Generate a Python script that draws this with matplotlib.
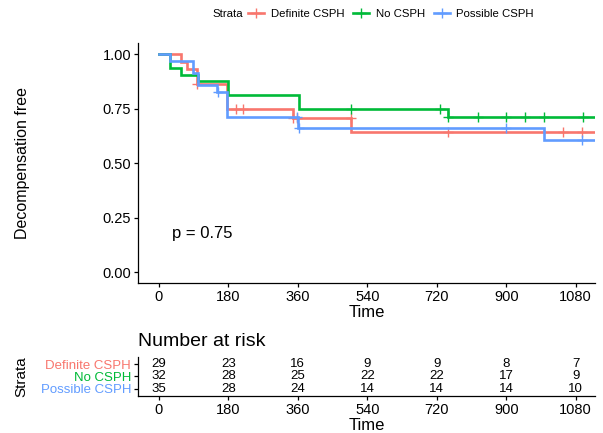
"""Kaplan-Meier style chart with a number-at-risk table underneath."""

import matplotlib

matplotlib.use("Agg")
import matplotlib.pyplot as plt
from matplotlib.lines import Line2D
import numpy as np

plt.rcParams["font.family"] = ["Liberation Sans", "DejaVu Sans"]

# Group names and colours (ggplot default hues).
strata = ["Definite CSPH", "No CSPH", "Possible CSPH"]
colors = ["#F8766D", "#00BA38", "#619CFF"]

# Step curves: times where the survival changes and the level after it.
definite_times = [0, 57, 73, 98, 177, 348, 498, 1130]
definite_surv = [1.0, 0.966, 0.931, 0.862, 0.750, 0.707, 0.643, 0.643]
definite_cens = [98, 199, 219, 348, 357, 497, 748, 1046, 1097]

no_times = [0, 28, 57, 100, 180, 364, 748, 1130]
no_surv = [1.0, 0.9375, 0.906, 0.875, 0.8125, 0.750, 0.712, 0.712]
no_cens = [498, 728, 748, 828, 899, 949, 998, 1098]

possible_times = [0, 28, 89, 100, 150, 177, 361, 997, 1130]
possible_surv = [1.0, 0.971, 0.914, 0.857, 0.829, 0.710, 0.664, 0.608, 0.608]
possible_cens = [152, 358, 363, 899, 1097]

# Number-at-risk table.
risk_times = [0, 180, 360, 540, 720, 900, 1080]
risk_definite = [29, 23, 16, 9, 9, 8, 7]
risk_no = [32, 28, 25, 22, 22, 17, 9]
risk_possible = [35, 28, 24, 14, 14, 14, 10]

p_label = "p = 0.75"

curves = [
    (definite_times, definite_surv, definite_cens),
    (no_times, no_surv, no_cens),
    (possible_times, possible_surv, possible_cens),
]
risk_rows = [risk_definite, risk_no, risk_possible]

W, H = 603, 433
fig = plt.figure(figsize=(W / 100, H / 100), dpi=100)


def _box(left, top, right, bottom):
    """Converts pixel edges into a figure-fraction rectangle."""
    return [left / W, 1 - bottom / H, (right - left) / W, (bottom - top) / H]


def _style(ax):
    for side in ("top", "right"):
        ax.spines[side].set_visible(False)
    for side in ("left", "bottom"):
        ax.spines[side].set_linewidth(0.9)
    ax.tick_params(direction="out", length=3.2, width=0.9, pad=1.5,
                   labelsize=10.5, colors="black")


ax = fig.add_axes(_box(137.7, 43.3, 595, 283.3))
_style(ax)
for (t, s, cens), col in zip(curves, colors):
    ax.step(t, s, where="post", color=col, linewidth=1.9, solid_joinstyle="miter")
    idx = np.searchsorted(t, cens, side="right") - 1
    ax.plot(cens, np.asarray(s)[idx], linestyle="none", marker="+",
            color=col, markersize=7, markeredgewidth=1.0)

ax.set_xlim(-55, 1130)
ax.set_ylim(-0.05, 1.05)
ax.set_xticks(risk_times)
ax.set_yticks([0, 0.25, 0.5, 0.75, 1.0])
ax.set_yticklabels(["0.00", "0.25", "0.50", "0.75", "1.00"])
ax.set_xlabel("Time", fontsize=12, labelpad=1)
ax.text(34, 0.18, p_label, fontsize=12, ha="left", va="center")

fig.text(22.5 / W, 1 - 163.3 / H, "Decompensation free", rotation=90,
         ha="center", va="center", fontsize=11.5)

# Legend across the top.
leg_fs = 8.2
handles = [Line2D([], [], color=c, linewidth=1.9, marker="+", markersize=7,
                  markeredgewidth=1.0) for c in colors]
fig.legend(handles, strata, loc="center right", ncol=3, frameon=False,
           bbox_to_anchor=(538 / W, 1 - 14 / H), fontsize=leg_fs,
           handlelength=1.4, handletextpad=0.55, columnspacing=0.8,
           borderaxespad=0)
fig.text(243 / W, 1 - 14 / H, "Strata", ha="right", va="center", fontsize=leg_fs)

# Risk table.
tab = fig.add_axes(_box(137.7, 356.6, 595, 396.1))
_style(tab)
ypos = [3, 2, 1]
for row, y, col in zip(risk_rows, ypos, colors):
    for t, n in zip(risk_times, row):
        tab.text(t, y, str(n), ha="center", va="center", fontsize=9.5)
tab.set_xlim(-55, 1130)
tab.set_ylim(0.4, 3.6)
tab.set_xticks(risk_times)
tab.set_yticks(ypos)
tab.set_yticklabels(strata, fontsize=9.5)
for lbl, col in zip(tab.get_yticklabels(), colors):
    lbl.set_color(col)
tab.set_xlabel("Time", fontsize=12, labelpad=1)
fig.text(138.3 / W, 1 - 341.7 / H, "Number at risk", ha="left", va="center",
         fontsize=14)
fig.text(21.7 / W, 1 - 377 / H, "Strata", rotation=90, ha="center",
         va="center", fontsize=11)

fig.savefig("out.png", dpi=100)
plt.close(fig)
